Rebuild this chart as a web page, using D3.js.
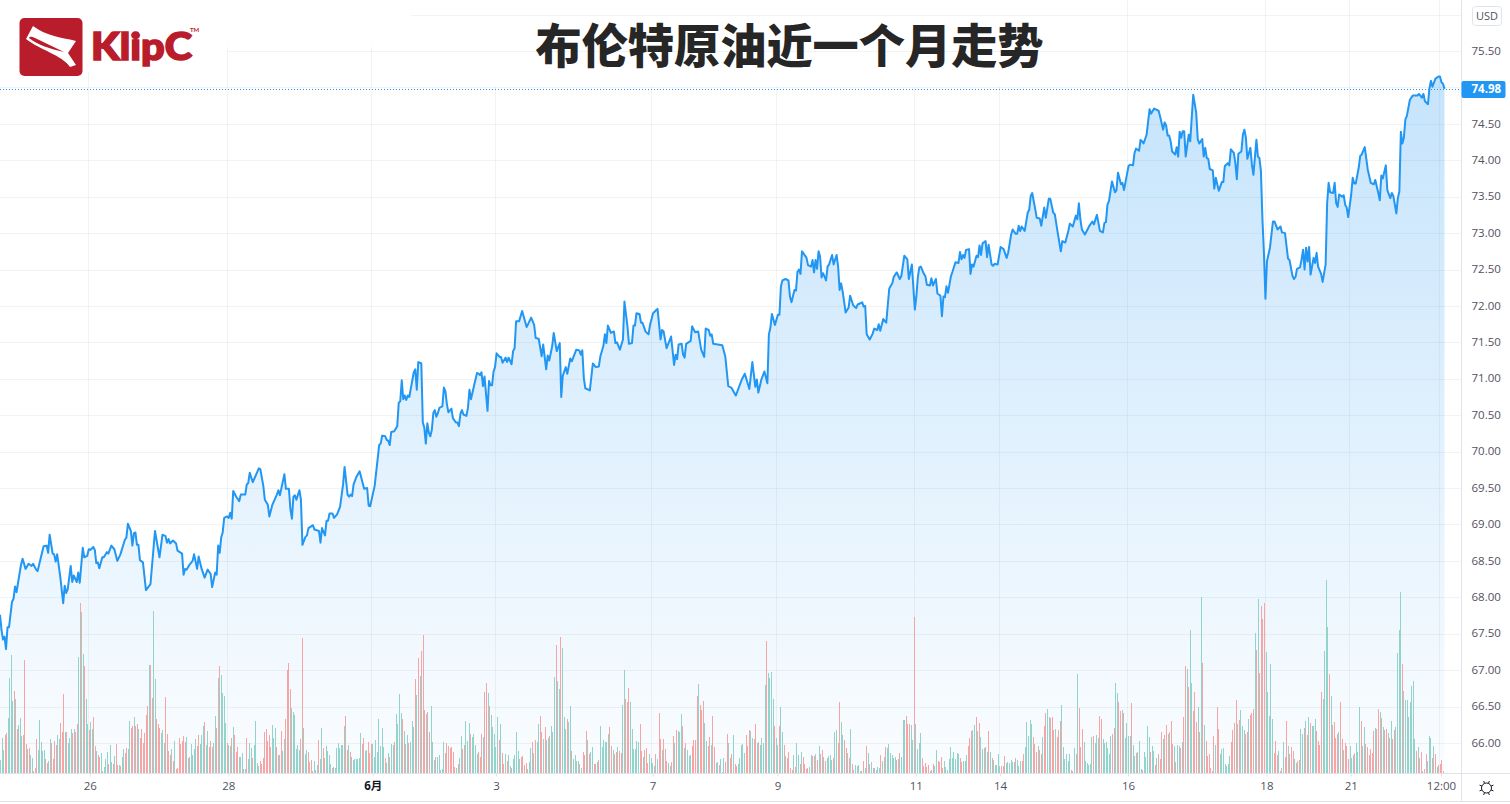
<!DOCTYPE html>
<html>
<head>
<meta charset="utf-8">
<title>布伦特原油近一个月走势</title>
<script src="https://cdn.jsdelivr.net/npm/d3@7"></script>
<style>
html, body { margin: 0; padding: 0; background: #fff; overflow: hidden; }
svg { display: block; }
.axis text { font-family: "Open Sans", "Noto Sans CJK SC", sans-serif; font-size: 11.5px; fill: #50535e; }
.axis .domain { display: none; }
.axis .tick line { stroke: #e0e3eb; }
</style>
</head>
<body>
<div id="chart"></div>
<script>
// [bar, close] vertices, bars are 30 min apart
const priceSeries = [[0,67.76],[1,67.55],[2,67.42],[3,67.46],[4,67.29],[5,67.59],[6,67.59],[8,67.94],[9,67.98],[10,68.15],[11,68.07],[12,68.20],[14,68.45],[15,68.53],[17,68.39],[19,68.46],[21,68.43],[22,68.46],[24,68.38],[25,68.36],[28,68.62],[29,68.70],[31,68.71],[32,68.61],[33,68.86],[35,68.60],[36,68.59],[37,68.49],[38,68.59],[40,68.29],[42,67.92],[43,68.16],[44,68.06],[45,68.11],[47,68.43],[48,68.21],[49,68.30],[51,68.21],[52,68.34],[53,68.20],[55,68.68],[56,68.55],[58,68.57],[59,68.66],[60,68.65],[62,68.69],[63,68.65],[64,68.47],[65,68.48],[66,68.40],[68,68.55],[69,68.55],[71,68.62],[72,68.60],[74,68.71],[76,68.66],[78,68.50],[80,68.59],[83,68.79],[84,68.82],[85,69.01],[87,68.91],[88,68.71],[89,68.88],[90,68.89],[91,68.72],[92,68.72],[93,68.51],[95,68.48],[97,68.10],[100,68.18],[103,68.91],[106,68.55],[108,68.86],[110,68.84],[111,68.75],[112,68.80],[113,68.74],[115,68.78],[117,68.74],[118,68.64],[121,68.60],[122,68.31],[123,68.39],[124,68.38],[126,68.45],[128,68.50],[129,68.59],[131,68.39],[132,68.56],[134,68.39],[136,68.27],[138,68.38],[140,68.32],[141,68.14],[143,68.34],[144,68.31],[145,68.71],[146,68.61],[147,68.82],[148,68.89],[149,69.09],[151,69.11],[152,69.09],[153,69.16],[154,69.08],[155,69.46],[157,69.38],[159,69.32],[160,69.41],[163,69.41],[164,69.55],[165,69.57],[166,69.71],[168,69.58],[172,69.77],[173,69.76],[175,69.53],[176,69.34],[178,69.27],[179,69.11],[181,69.27],[184,69.41],[185,69.47],[186,69.40],[189,69.69],[190,69.49],[192,69.49],[193,69.21],[194,69.08],[195,69.38],[196,69.40],[197,69.34],[199,69.47],[200,69.34],[201,68.72],[203,68.83],[204,68.85],[205,68.95],[208,68.99],[209,68.93],[212,68.91],[213,68.75],[214,68.95],[216,68.85],[217,69.05],[218,69.05],[219,69.15],[221,69.15],[222,69.09],[224,69.14],[226,69.24],[228,69.55],[229,69.79],[231,69.41],[232,69.38],[233,69.41],[234,69.39],[235,69.55],[237,69.66],[239,69.73],[242,69.49],[244,69.50],[245,69.26],[246,69.25],[249,69.53],[252,70.09],[253,70.11],[254,70.22],[256,70.21],[257,70.16],[258,70.15],[259,70.09],[260,70.27],[262,70.28],[264,70.35],[265,70.67],[266,70.69],[267,70.98],[268,70.72],[269,70.77],[270,70.71],[271,70.77],[272,70.75],[275,71.09],[276,71.13],[277,70.85],[278,71.23],[280,71.21],[281,70.40],[282,70.33],[283,70.11],[284,70.39],[285,70.26],[286,70.21],[287,70.30],[288,70.53],[289,70.57],[290,70.48],[291,70.53],[292,70.60],[294,70.62],[295,70.88],[296,70.83],[297,70.65],[298,70.54],[300,70.59],[301,70.46],[303,70.40],[304,70.40],[305,70.35],[306,70.52],[307,70.57],[308,70.51],[310,70.49],[311,70.60],[312,70.85],[313,70.72],[315,70.90],[317,71.08],[318,71.07],[319,71.05],[320,71.09],[321,70.90],[322,71.03],[324,70.56],[325,70.97],[326,70.91],[327,70.91],[328,71.10],[329,71.16],[330,71.35],[332,71.30],[333,71.30],[334,71.22],[336,71.29],[337,71.23],[338,71.29],[340,71.20],[341,71.38],[342,71.42],[343,71.79],[345,71.79],[347,71.93],[350,71.71],[353,71.84],[355,71.74],[356,71.56],[358,71.55],[360,71.31],[361,71.47],[363,71.13],[364,71.32],[365,71.25],[367,71.45],[368,71.63],[370,71.38],[372,71.49],[373,70.75],[374,71.04],[376,71.16],[377,71.07],[379,71.28],[380,71.24],[383,71.40],[385,71.39],[386,71.33],[387,71.39],[388,71.01],[389,70.87],[392,70.84],[394,71.21],[396,71.16],[398,71.17],[399,71.31],[401,71.45],[402,71.61],[403,71.49],[404,71.73],[406,71.63],[408,71.65],[409,71.49],[410,71.50],[412,71.40],[414,71.54],[415,72.06],[417,71.72],[418,71.48],[420,71.49],[421,71.73],[422,71.73],[423,71.90],[425,71.89],[426,71.77],[427,71.77],[429,71.65],[431,71.61],[432,71.74],[434,71.90],[436,71.94],[437,71.96],[439,71.54],[440,71.67],[441,71.65],[443,71.42],[446,71.58],[448,71.19],[449,71.33],[450,71.27],[451,71.47],[453,71.48],[454,71.33],[455,71.29],[456,71.48],[459,71.52],[460,71.72],[462,71.64],[464,71.65],[466,71.40],[468,71.30],[469,71.69],[471,71.67],[472,71.59],[473,71.61],[474,71.48],[477,71.47],[480,71.46],[482,71.31],[484,70.90],[486,70.88],[489,70.77],[493,70.99],[495,71.07],[498,70.86],[500,71.23],[502,70.89],[503,70.99],[504,70.81],[506,70.99],[508,71.10],[510,70.94],[511,71.61],[512,71.70],[513,71.89],[515,71.74],[517,71.88],[518,71.88],[519,72.27],[520,72.35],[522,72.37],[524,72.35],[525,72.13],[526,72.05],[528,72.22],[529,72.21],[530,72.47],[531,72.50],[532,72.44],[533,72.75],[535,72.69],[536,72.66],[537,72.56],[539,72.54],[540,72.63],[541,72.46],[542,72.63],[543,72.51],[544,72.75],[545,72.68],[546,72.39],[547,72.45],[549,72.35],[550,72.54],[551,72.57],[553,72.70],[554,72.57],[556,72.70],[557,72.54],[558,72.22],[559,72.31],[560,72.20],[561,72.06],[562,71.91],[564,71.98],[565,72.14],[567,72.01],[569,71.97],[570,72.02],[573,72.05],[574,71.99],[575,72.00],[576,71.61],[578,71.54],[580,71.62],[581,71.69],[583,71.67],[584,71.75],[585,71.66],[587,71.82],[589,71.77],[590,72.01],[591,72.24],[593,72.31],[594,72.40],[596,72.46],[598,72.37],[599,72.41],[601,72.69],[603,72.64],[604,72.37],[606,72.57],[608,71.95],[609,72.13],[610,72.40],[611,72.53],[612,72.54],[614,72.44],[615,72.41],[616,72.29],[618,72.28],[619,72.38],[620,72.28],[622,72.37],[623,72.17],[625,72.14],[626,71.86],[627,72.13],[628,72.12],[629,72.27],[630,72.18],[632,72.41],[633,72.47],[635,72.60],[637,72.59],[638,72.74],[639,72.64],[640,72.70],[641,72.66],[642,72.77],[644,72.78],[645,72.44],[646,72.57],[647,72.54],[649,72.69],[650,72.67],[651,72.83],[652,72.70],[653,72.86],[655,72.89],[656,72.67],[657,72.84],[659,72.57],[660,72.55],[661,72.58],[663,72.57],[665,72.81],[667,72.78],[669,72.66],[670,72.73],[672,72.98],[673,73.05],[675,72.99],[676,72.99],[677,73.10],[678,73.03],[679,73.09],[681,73.03],[683,73.28],[684,73.32],[685,73.51],[686,73.55],[688,73.33],[689,73.21],[691,73.20],[692,73.10],[694,73.35],[695,73.21],[697,73.47],[698,73.47],[700,73.28],[701,73.26],[703,73.00],[705,72.75],[706,72.89],[708,72.87],[710,73.03],[711,73.13],[713,73.09],[715,73.24],[716,73.19],[717,73.41],[718,73.19],[719,73.05],[721,72.98],[723,73.06],[724,73.10],[726,73.16],[727,73.12],[729,73.25],[731,73.03],[733,73.01],[734,73.14],[735,73.15],[736,73.39],[737,73.44],[739,73.71],[741,73.56],[742,73.59],[743,73.83],[745,73.67],[746,73.69],[747,73.59],[749,73.81],[750,73.92],[751,73.94],[753,73.93],[754,74.10],[755,74.16],[757,74.13],[758,74.28],[759,74.26],[760,74.23],[762,74.35],[764,74.70],[765,74.64],[767,74.71],[770,74.68],[771,74.60],[773,74.42],[774,74.52],[775,74.48],[776,74.34],[777,74.34],[778,74.26],[779,74.12],[781,74.08],[782,74.18],[783,74.05],[784,74.39],[785,74.31],[786,74.40],[787,74.40],[788,74.05],[790,74.35],[791,74.26],[793,74.90],[795,74.65],[796,74.29],[797,74.23],[799,74.29],[800,74.05],[801,74.17],[802,74.03],[803,74.02],[804,73.88],[806,73.86],[807,73.61],[808,73.76],[810,73.58],[812,73.70],[813,73.70],[814,73.92],[816,73.96],[817,73.93],[818,74.15],[820,74.10],[821,73.96],[822,73.74],[823,74.09],[825,74.12],[826,74.35],[827,74.42],[828,74.31],[829,74.02],[831,74.17],[832,73.94],[833,73.80],[835,74.28],[836,74.05],[837,74.03],[838,73.85],[839,73.19],[840,72.73],[841,72.10],[842,72.61],[844,72.80],[846,73.16],[847,73.16],[849,73.05],[851,73.09],[852,73.01],[854,73.00],[856,72.65],[857,72.63],[859,72.41],[860,72.37],[861,72.40],[862,72.51],[864,72.53],[865,72.64],[866,72.77],[867,72.50],[868,72.80],[869,72.61],[870,72.81],[871,72.43],[873,72.66],[874,72.59],[875,72.73],[876,72.54],[878,72.44],[879,72.33],[881,72.57],[882,73.41],[883,73.69],[884,73.56],[886,73.55],[887,73.69],[888,73.41],[889,73.36],[890,73.53],[892,73.50],[893,73.52],[894,73.39],[895,73.35],[896,73.22],[898,73.53],[899,73.76],[900,73.68],[901,73.68],[903,73.90],[904,74.06],[905,74.08],[907,74.18],[909,73.87],[911,73.69],[913,73.67],[914,73.73],[916,73.55],[917,73.45],[918,73.79],[919,73.75],[921,73.93],[922,73.59],[924,73.48],[925,73.55],[926,73.51],[928,73.27],[929,73.48],[930,73.57],[931,74.39],[932,74.23],[933,74.31],[934,74.56],[935,74.61],[937,74.83],[939,74.89],[942,74.89],[943,74.91],[945,74.86],[946,74.91],[947,74.81],[949,74.77],[950,74.99],[951,75.09],[952,75.01],[954,75.12],[956,75.15],[957,75.15],[958,75.07],[959,75.05],[960,74.98]];

// volume per bar, negative = down bar (red), positive = up bar (teal)
const volumesMay = [13,35,23,-38,-40,55,95,118,72,-82,74,-44,48,55,37,-38,-113,-29,24,-25,18,15,-2,-5,-34,23,53,31,22,23,-14,-10,12,34,-30,-14,-32,-28,38,34,-50,-41,-79,41,-41,30,35,44,-40,44,-41,-49,116,-170,161,119,-107,74,49,-43,51,44,-56,-27,22,-18,-16,20,-2,6,14,21,-9,28,11,-9,17,-29,-8,8,-7,16,24,-20,-25,24,52,-45,-47,56,-47,-49,44,-35,-44,-30,-40,-58,-67,108,-108,-75,162,94,-54,-49,-45,40,43,30,-76,-39,-22,-18,24,-12,32,-4,-5,-35,-29,-32,-37,-31,36,15,-16,29,18,24,34,-27,-38,29,38,47,-51,28,42,-26,-32,-26,30,57,-45,95,-107,98,80,77,50,-30,28,27,-35,46,-38,-21,-26,16,16,20,-4,4,-35,14,30,25,-15,28,52,10,7,-12,-9,-15,-41,-44,-32,-38,-26,48,35,45,-26,18,-18,-42,22,34,-54,-103,-110,-84,65,61,58,24,28,23,-34,-135,45,19,23,-21,-11,-13,-2,12,3,8,-33,14,45,-25,-15,27,22,18,9,5,-6,5,25,30,25,28,28,47,-57,-23,28,-21,16,13,14,14,14,15,40,-29,-35,22,23,-31,-20,-29,29,16,33,21,54];
const volumesEarlyJune = [27,45,26,-15,10,20,-16,29,28,-31,59,49,79,60,-54,42,-29,38,-30,31,52,46,-94,78,-115,97,-122,-138,-63,59,-61,-41,67,31,13,-16,16,18,3,4,31,-20,-30,-27,-25,-26,-21,-6,5,-9,15,37,-24,-28,52,32,50,-39,36,39,28,19,-21,-16,-39,36,-81,-90,80,-67,58,46,39,26,56,-33,49,-20,-9,19,-12,18,7,-5,14,18,41,22,14,-16,-17,-8,-10,4,11,25,-31,20,-33,31,49,-57,-41,34,-46,33,35,-37,47,41,96,-128,92,84,-136,125,56,44,-54,51,67,-22,14,18,12,12,-9,5,-21,-18,-42,33,-19,21,26,-9,-9,11,-13,47,26,33,31,31,39,-46,-27,23,-19,-21,26,-22,-20,68,103,-74,-71,-85,71,44,24,24,32,31,-49,-22,16,-23,-25,-10,19,15,10,7,-19,14,-60,-34,23,-34,-24,-12,10,7,-11,-37,30,-43,42,41,59,-47,25,-30,23,17,18,-27,-33,-33,-77,89,-68,-63,-72,50,32,-27,-36,28,-57,-26,10,11,-8,14,1,15,-11,-39,30,-15,-19,38,-9,-7,9,15,28,29,20,-38,-27,-43,42,35,-34,-49,30,-31];
const volumesMidJune = [28,35,30,88,-132,100,95,101,74,-47,35,28,-47,66,41,-28,17,-15,-21,-5,-3,18,-6,30,18,-9,21,-16,-9,-4,-5,6,18,-17,-17,19,-13,27,-19,-23,16,-12,15,17,18,13,-15,41,43,-30,-71,51,38,-33,-25,20,-15,44,-9,-3,8,7,8,2,-2,-12,5,-27,20,-9,11,5,-5,3,6,5,-18,12,16,-26,25,29,20,18,15,16,-13,14,-20,16,53,53,-57,-49,-49,48,33,-156,49,24,30,40,-15,-7,-10,-6,-8,-2,3,-9,7,23,-12,-11,-16,-5,12,6,3,14,26,15,21,14,20,19,-15,-11,12,12,18,-27,-35,-42,43,48,-56,42,-50,36,24,25,-26,21,-42,21,-15,13,8,8,19,7,-7,-7,-17,10,11,10,13,11,11,-15,13,7,12,-12,-19,26,51,37,53,49,-36,-29,-21,27,-23,-19,36,-47,-60,64,56,-55,-56,-43,44,-36,-43,-52,68,26,14,19,12,19,-3,-2,25,-19,99,-65,-26,-44,31,12,10,8,9,36,-37,30,38,35,-57,-54,34,30,31,25,19,37,-39,-45,90,80,-71,-62,63,-60,35,50,37,37,-70,28,17,20,-21];
const volumesLateJune = [32,4,-3,21,16,47,36,-21,27,22,-8,15,-19,-14,-41,34,-38,-48,39,-41,-52,-29,27,-11,28,27,-25,31,-56,-107,104,-86,143,90,-62,-81,-51,66,-41,176,-110,48,-32,-17,-19,-5,-2,-37,28,-66,-44,19,24,25,9,7,9,17,-31,-43,-50,-73,49,-53,63,47,43,-39,-41,54,-58,-60,-64,140,-123,174,-100,-167,-154,-170,121,81,57,109,54,-20,-32,-18,22,2,-5,31,-16,-52,27,-19,-26,-22,14,10,-12,-13,44,39,-45,52,-38,56,-50,47,47,54,-42,-32,-28,-81,74,122,193,146,-99,77,-48,-51,-35,-39,41,-71,-34,23,-30,-27,-14,27,15,18,-20,30,21,66,-52,27,46,-29,-26,-18,-24,-20,-42,45,-44,-64,61,-55,46,-43,-44,40,-35,52,-34,-43,46,120,143,181,-109,82,73,73,56,71,87,92,34,-22,26,-15,-21,2,-4,-19,12,37,35,-15,27,-19,6,-8,-9,-13,-2];

const priceTicks = [66,66.5,67,67.5,68,68.5,69,69.5,70,70.5,71,71.5,72,72.5,73,73.5,74,74.5,75,75.5];
const timeTickBars = [59,151,247,329,433,516,608,664,749,841,897,957];
const timeTickLabels = ['26','28','6月','3','7','9','11','14','16','18','21','12:00'];
const lastPrice = 74.98;
const currency = 'USD';
const titleText = '布伦特原油近一个月走势';

const attrs = {
    svgWidth: 1510,
    svgHeight: 804,
    plotRight: 1461.5,
    plotBottom: 773.5,
    frameBottom: 801.5,
    lineColor: '#2196f3',
    upColor: '#92d3cb',
    downColor: '#f6a5a4',
    gridColor: 'rgba(42,46,57,0.06)',
    borderColor: '#e0e3eb'
};

// each list covers a stretch of bars, spread it over that stretch
const volumeStretches = [
    [volumesMay, 0, 252.5],
    [volumesEarlyJune, 252.5, 505],
    [volumesMidJune, 505, 757],
    [volumesLateJune, 757, 960]
];
const volumes = volumeStretches.flatMap(([list, from, to]) =>
    list.map((v, k) => ({ bar: from + k * (to - from) / list.length, v })));

const lastBar = priceSeries[priceSeries.length - 1][0];

const svg = d3.select('#chart').append('svg')
    .attr('width', attrs.svgWidth)
    .attr('height', attrs.svgHeight);

const x = d3.scaleLinear().domain([0, lastBar]).range([0, 1444.5]);
const y = d3.scaleLinear().domain([66, 75.5]).range([743, 51]);
const volumeY = d3.scaleLinear().domain([0, 200]).range([attrs.plotBottom - 0.5, attrs.plotBottom - 200.5]);

// area gradient
const grad = svg.append('defs').append('linearGradient')
    .attr('id', 'areaFill')
    .attr('gradientUnits', 'userSpaceOnUse')
    .attr('x1', 0).attr('x2', 0)
    .attr('y1', y(75.15)).attr('y2', attrs.plotBottom);
grad.append('stop').attr('offset', 0).attr('stop-color', attrs.lineColor).attr('stop-opacity', 0.26);
grad.append('stop').attr('offset', 1).attr('stop-color', attrs.lineColor).attr('stop-opacity', 0.02);

// vertical grid first, the logo and title patches sit above it
svg.append('g').selectAll('line').data(timeTickBars).join('line')
    .attr('x1', d => Math.floor(x(d)) + 0.5)
    .attr('x2', d => Math.floor(x(d)) + 0.5)
    .attr('y1', 0)
    .attr('y2', attrs.plotBottom)
    .attr('stroke', attrs.gridColor);

// white patches the picture has behind logo and title
const patches = [[0, 0, 226.5, 72], [226.5, 0, 184.5, 47], [403, 0, 647, 87]];
svg.append('g').selectAll('rect').data(patches).join('rect')
    .attr('x', d => d[0]).attr('y', d => d[1])
    .attr('width', d => d[2]).attr('height', d => d[3])
    .attr('fill', '#fff');

// horizontal grid, upper levels start where the patches end
const gridStart = { 76: 411, 75.5: 227 };
svg.append('g').selectAll('line').data(priceTicks.concat([76])).join('line')
    .attr('x1', d => gridStart[d] || 0)
    .attr('x2', attrs.plotRight)
    .attr('y1', d => Math.round(y(d)) + 0.5)
    .attr('y2', d => Math.round(y(d)) + 0.5)
    .attr('stroke', attrs.gridColor);

// area + line
const area = d3.area().x(d => x(d[0])).y0(attrs.plotBottom).y1(d => y(d[1]));
const line = d3.line().x(d => x(d[0])).y(d => y(d[1]));

svg.append('path').datum(priceSeries)
    .attr('d', area)
    .attr('fill', 'url(#areaFill)');

// volume bars
svg.append('g').selectAll('rect').data(volumes).join('rect')
    .attr('x', d => Math.round(x(d.bar)))
    .attr('width', 1)
    .attr('y', d => volumeY(Math.abs(d.v)))
    .attr('height', d => volumeY(0) - volumeY(Math.abs(d.v)))
    .attr('fill', d => d.v < 0 ? attrs.downColor : attrs.upColor);

svg.append('path').datum(priceSeries)
    .attr('d', line)
    .attr('fill', 'none')
    .attr('stroke', attrs.lineColor)
    .attr('stroke-width', 2)
    .attr('stroke-linejoin', 'round');

// last price dotted line
svg.append('line')
    .attr('x1', 0).attr('x2', attrs.plotRight)
    .attr('y1', Math.round(y(lastPrice)) + 0.5)
    .attr('y2', Math.round(y(lastPrice)) + 0.5)
    .attr('stroke', attrs.lineColor)
    .attr('stroke-dasharray', '1 2');

// frame lines
svg.append('line').attr('x1', 0).attr('x2', attrs.svgWidth)
    .attr('y1', attrs.plotBottom).attr('y2', attrs.plotBottom).attr('stroke', attrs.borderColor);
svg.append('line').attr('x1', 0).attr('x2', attrs.svgWidth)
    .attr('y1', attrs.frameBottom).attr('y2', attrs.frameBottom).attr('stroke', attrs.borderColor);
svg.append('line').attr('x1', attrs.plotRight).attr('x2', attrs.plotRight)
    .attr('y1', 0).attr('y2', attrs.frameBottom).attr('stroke', attrs.borderColor);

// price axis
svg.append('g').attr('class', 'axis')
    .attr('transform', 'translate(' + attrs.plotRight + ',-0.5)')
    .call(d3.axisRight(y).tickValues(priceTicks).tickFormat(d3.format('.2f')).tickSize(0).tickPadding(10));

// time axis
const timeAxis = svg.append('g').attr('class', 'axis')
    .attr('transform', 'translate(1,' + attrs.plotBottom + ')')
    .call(d3.axisBottom(d3.scaleLinear().domain(x.domain()).range(x.range()))
        .tickValues(timeTickBars)
        .tickFormat((d, i) => timeTickLabels[i])
        .tickSize(3)
        .tickPadding(5));
timeAxis.selectAll('text').attr('font-weight', (d, i) => timeTickLabels[i] === '6月' ? 700 : 400)
    .style('fill', (d, i) => timeTickLabels[i] === '6月' ? '#131722' : null);

// last price tag
const tag = svg.append('g');
tag.append('rect')
    .attr('x', attrs.plotRight).attr('y', Math.round(y(lastPrice)) - 8)
    .attr('width', 44).attr('height', 17).attr('rx', 2)
    .attr('fill', attrs.lineColor);
tag.append('text')
    .attr('x', attrs.plotRight + 10).attr('y', y(lastPrice) + 4)
    .attr('font-family', '"Open Sans", sans-serif').attr('font-size', 11.5).attr('font-weight', 700)
    .attr('fill', '#fff')
    .text(d3.format('.2f')(lastPrice));

// currency box
svg.append('rect')
    .attr('x', 1472.5).attr('y', 6.5).attr('width', 29).attr('height', 19).attr('rx', 3)
    .attr('fill', '#fff').attr('stroke', attrs.borderColor);
svg.append('text')
    .attr('x', 1487).attr('y', 20).attr('text-anchor', 'middle')
    .attr('font-family', '"Open Sans", sans-serif').attr('font-size', 11)
    .attr('fill', '#50535e')
    .text(currency);

// settings icon
const gear = svg.append('g').attr('transform', 'translate(1486.5,788)')
    .attr('stroke', '#131722').attr('fill', 'none');
gear.append('circle').attr('r', 5);
gear.selectAll('line').data(d3.range(8)).join('line')
    .attr('x1', d => Math.cos(d * Math.PI / 4 + Math.PI / 8) * 5)
    .attr('y1', d => Math.sin(d * Math.PI / 4 + Math.PI / 8) * 5)
    .attr('x2', d => Math.cos(d * Math.PI / 4 + Math.PI / 8) * 7.5)
    .attr('y2', d => Math.sin(d * Math.PI / 4 + Math.PI / 8) * 7.5);

// title
svg.append('text')
    .attr('x', 789.5).attr('y', 63)
    .attr('text-anchor', 'middle')
    .attr('font-family', '"Noto Sans CJK SC", sans-serif')
    .attr('font-size', 46.2).attr('font-weight', 900)
    .attr('fill', '#262626')
    .text(titleText);

// KlipC logo
const logo = svg.append('g');
logo.append('rect')
    .attr('x', 19.5).attr('y', 18).attr('width', 63).attr('height', 58).attr('rx', 5)
    .attr('fill', '#b91c2a');
logo.append('path')
    .attr('d', 'M33,26 C46,36 60,37 76,41 L68,53 L76,65 L70,67 C62,55 40,50 26,39 Z')
    .attr('fill', '#fff');
logo.append('path')
    .attr('d', 'M29,38 C30,36 32,37 35,38 L64,52 C50,49 38,45 29,38 Z')
    .attr('fill', '#b91c2a');
logo.append('text')
    .attr('x', 91).attr('y', 59.5)
    .attr('font-family', 'Lato, sans-serif').attr('font-size', 37).attr('font-weight', 900)
    .attr('textLength', 101).attr('lengthAdjust', 'spacingAndGlyphs')
    .attr('fill', '#b91c2a').attr('stroke', '#b91c2a').attr('stroke-width', 1.6)
    .text('KlipC');
logo.append('text')
    .attr('x', 190).attr('y', 32)
    .attr('font-family', 'Lato, sans-serif').attr('font-size', 6).attr('font-weight', 700)
    .attr('fill', '#b91c2a')
    .text('TM');
</script>
</body>
</html>
